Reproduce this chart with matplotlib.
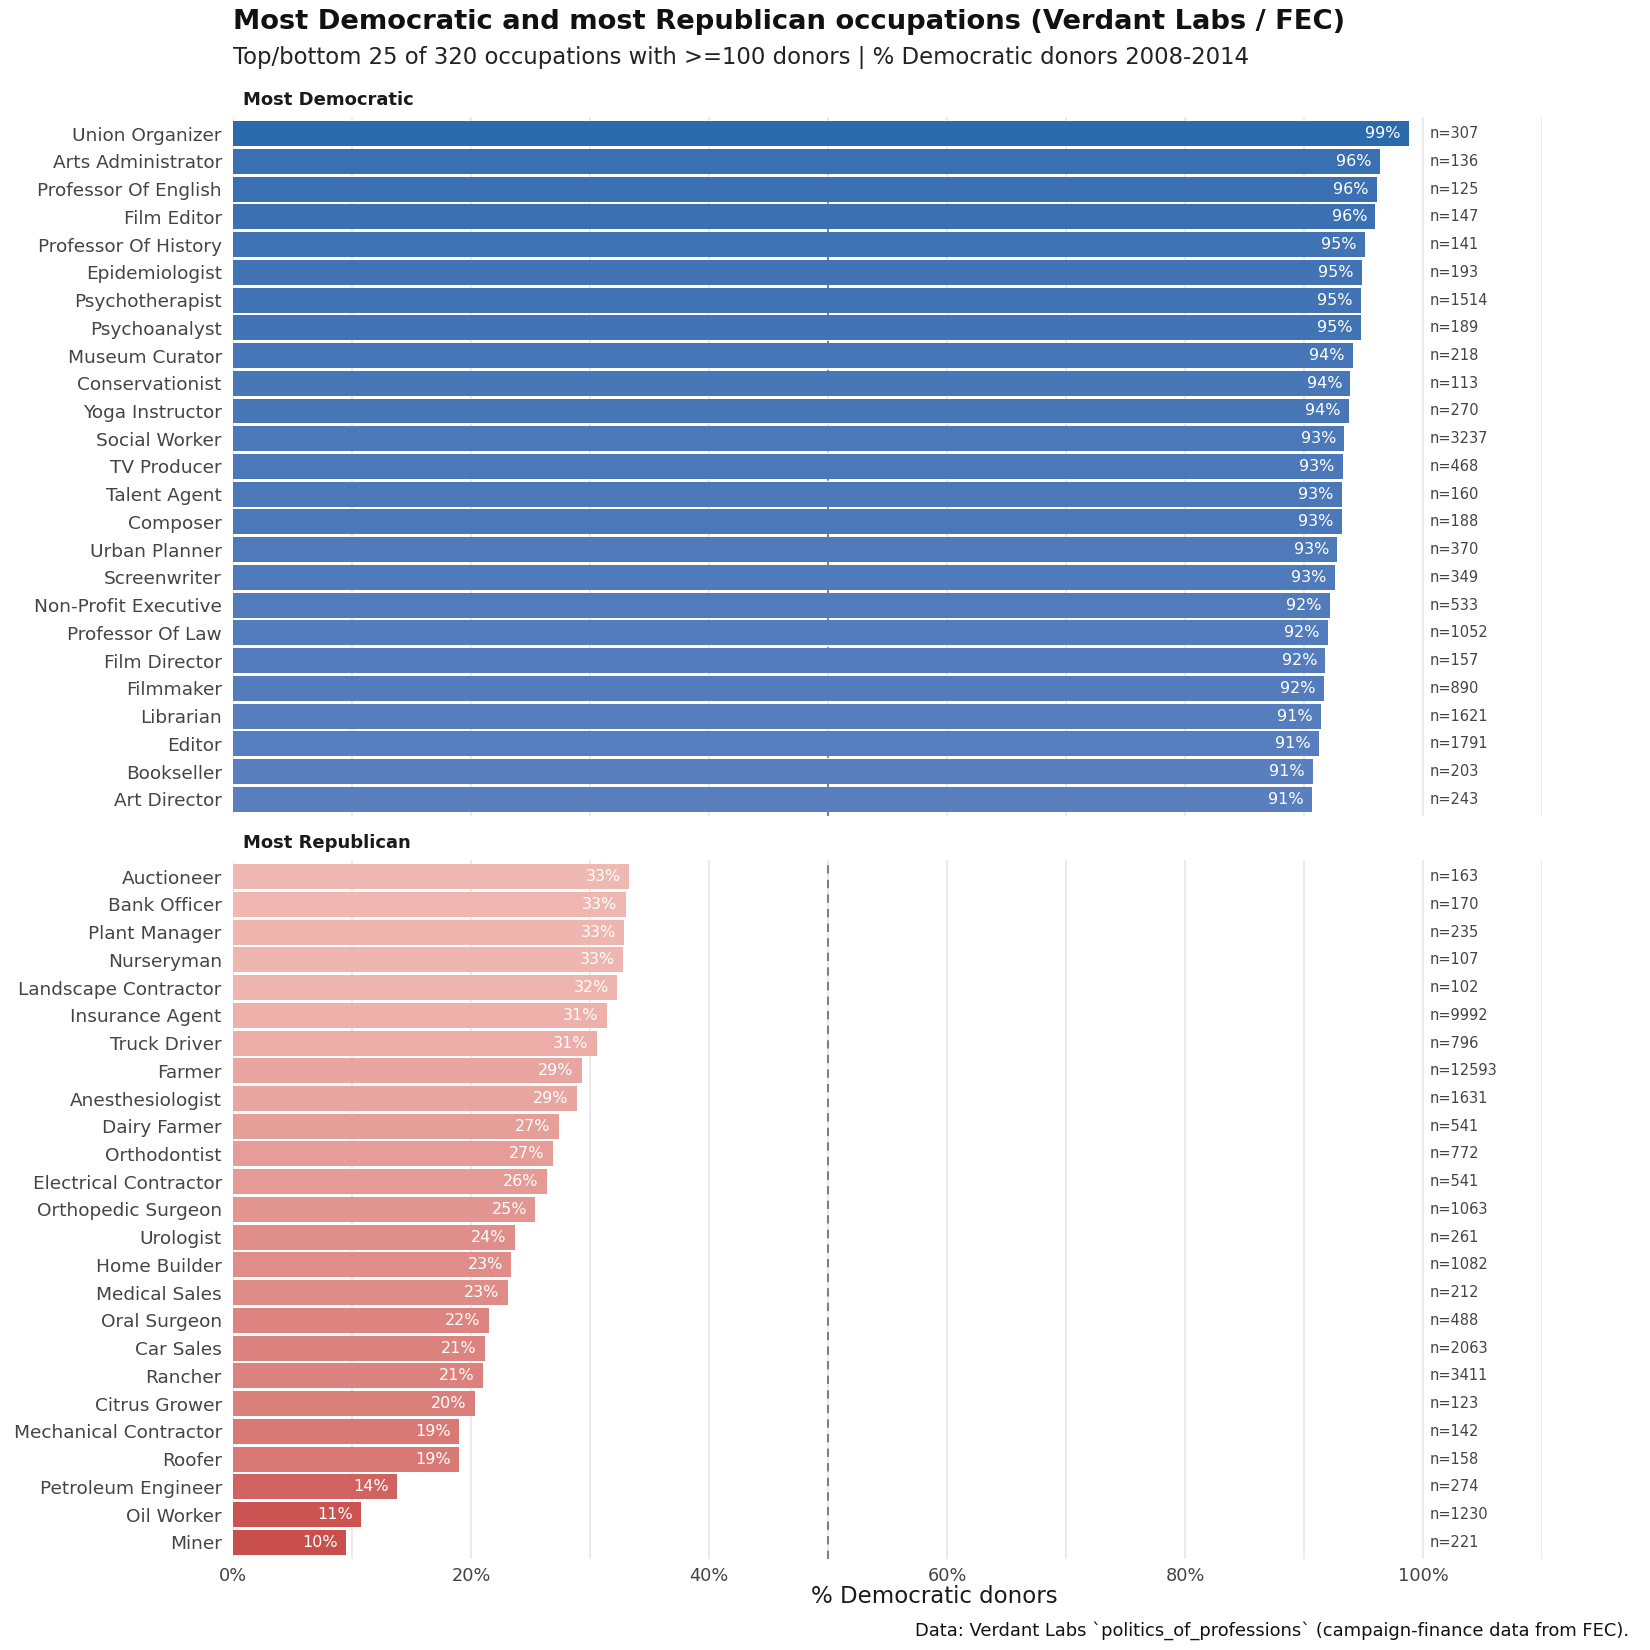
import matplotlib
matplotlib.use("Agg")
import matplotlib.pyplot as plt
import numpy as np
from matplotlib.colors import LinearSegmentedColormap, Normalize
from matplotlib.ticker import MultipleLocator, FuncFormatter

# --- data ---
dem_jobs = ["Union Organizer", "Arts Administrator", "Professor Of English", "Film Editor",
            "Professor Of History", "Epidemiologist", "Psychotherapist", "Psychoanalyst",
            "Museum Curator", "Conservationist", "Yoga Instructor", "Social Worker",
            "TV Producer", "Talent Agent", "Composer", "Urban Planner", "Screenwriter",
            "Non-Profit Executive", "Professor Of Law", "Film Director", "Filmmaker",
            "Librarian", "Editor", "Bookseller", "Art Director"]
dem_pct = [98.8, 96.4, 96.1, 96.0, 95.1, 94.9, 94.8, 94.8, 94.1, 93.9, 93.8, 93.4,
           93.3, 93.2, 93.2, 92.8, 92.6, 92.2, 92.0, 91.8, 91.7, 91.4, 91.3, 90.8, 90.7]
dem_n = [307, 136, 125, 147, 141, 193, 1514, 189, 218, 113, 270, 3237,
         468, 160, 188, 370, 349, 533, 1052, 157, 890, 1621, 1791, 203, 243]

rep_jobs = ["Auctioneer", "Bank Officer", "Plant Manager", "Nurseryman",
            "Landscape Contractor", "Insurance Agent", "Truck Driver", "Farmer",
            "Anesthesiologist", "Dairy Farmer", "Orthodontist", "Electrical Contractor",
            "Orthopedic Surgeon", "Urologist", "Home Builder", "Medical Sales",
            "Oral Surgeon", "Car Sales", "Rancher", "Citrus Grower",
            "Mechanical Contractor", "Roofer", "Petroleum Engineer", "Oil Worker", "Miner"]
rep_pct = [33.3, 33.0, 32.9, 32.8, 32.3, 31.4, 30.6, 29.3, 28.9, 27.4, 26.9, 26.4,
           25.4, 23.7, 23.4, 23.1, 21.5, 21.2, 21.0, 20.3, 19.0, 19.0, 13.8, 10.8, 9.5]
rep_n = [163, 170, 235, 107, 102, 9992, 796, 12593, 1631, 541, 772, 541,
         1063, 261, 1082, 212, 488, 2063, 3411, 123, 142, 158, 274, 1230, 221]

blue_cmap = LinearSegmentedColormap.from_list("dem", ["#5a7fbf", "#2b6aac"])
red_cmap = LinearSegmentedColormap.from_list("rep", ["#c94f4d", "#f0b8b2"])

fig = plt.figure(figsize=(16.5, 16.5), dpi=100)
ax_top = fig.add_axes([0.1412, 0.5055, 0.7933, 0.4236])
ax_bot = fig.add_axes([0.1412, 0.0552, 0.7933, 0.4236])


def draw_panel(ax, jobs, pct, ns, cmap, title):
    y = np.arange(len(jobs))[::-1]
    norm = Normalize(min(pct), max(pct))
    colors = [cmap(norm(v)) for v in pct]
    ax.barh(y, pct, height=0.9, color=colors, zorder=2)
    for yi, v, n in zip(y, pct, ns):
        ax.text(v - 0.7, yi, f"{v:.0f}%", ha="right", va="center",
                color="white", fontsize=11.5, zorder=3)
        ax.text(100.6, yi, f"n={n}", ha="left", va="center",
                color="#444444", fontsize=10.5, zorder=3)
    ax.axvline(50, color="#808080", linestyle=(0, (4, 3)), linewidth=1.5, zorder=1.8)
    ax.set_yticks(y)
    ax.set_yticklabels(jobs, fontsize=13.3, color="#444444")
    ax.set_ylim(-0.6, len(jobs) - 0.4)
    ax.set_xlim(0, 110)
    ax.xaxis.set_major_locator(MultipleLocator(20))
    ax.xaxis.set_minor_locator(MultipleLocator(10))
    ax.grid(axis="x", which="both", color="#ebebeb", linewidth=1.4)
    ax.grid(axis="y", visible=False)
    ax.tick_params(length=0, which="both", pad=8)
    for s in ax.spines.values():
        s.set_visible(False)
    ax.text(0.008, 1.012, title, transform=ax.transAxes, fontsize=13,
            fontweight="bold", color="#1a1a1a", ha="left", va="bottom")


draw_panel(ax_top, dem_jobs, dem_pct, dem_n, blue_cmap, "Most Democratic")
draw_panel(ax_bot, rep_jobs, rep_pct, rep_n, red_cmap, "Most Republican")

ax_top.tick_params(axis="x", labelbottom=False)
ax_bot.xaxis.set_major_formatter(FuncFormatter(lambda v, p: f"{v:.0f}%" if v <= 100 else ""))
ax_bot.tick_params(axis="x", labelsize=12.8, labelcolor="#444444", pad=6)
ax_bot.set_xlabel("% Democratic donors", fontsize=16.5, color="#1a1a1a")
ax_bot.xaxis.set_label_coords(0.536, -0.037)

fig.text(0.1412, 0.9865, "Most Democratic and most Republican occupations (Verdant Labs / FEC)",
         fontsize=19.7, fontweight="bold", color="#111111", ha="left", va="center")
fig.text(0.1412, 0.9650, "Top/bottom 25 of 320 occupations with >=100 donors | % Democratic donors 2008-2014",
         fontsize=16.4, color="#222222", ha="left", va="center")
fig.text(0.987, 0.0120, "Data: Verdant Labs `politics_of_professions` (campaign-finance data from FEC).",
         fontsize=12.9, color="#111111", ha="right", va="center")

fig.savefig("out.png", dpi=100)
